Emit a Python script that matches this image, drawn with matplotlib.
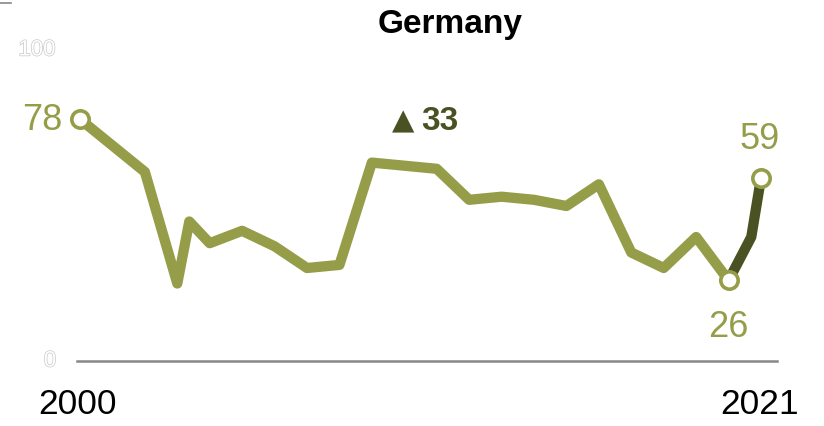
import matplotlib
matplotlib.use("Agg")
import matplotlib.pyplot as plt
import matplotlib.patheffects as pe
from matplotlib.lines import Line2D

# ---- data ----
years = [2000, 2002, 2003, 2003.37, 2004, 2005, 2006, 2007, 2008, 2009, 2010,
         2011, 2012, 2013, 2014, 2015, 2016, 2017, 2018, 2019, 2020]
values = [78, 61, 25, 45, 38, 42, 37, 30, 31, 64, 63,
          62, 52, 53, 52, 50, 57, 35, 30, 40, 26]
recent_years = [2020, 2020.7, 2021]
recent_values = [26, 40, 59]
title = "Germany"
change_label = "33"
x_labels = ["2000", "2021"]
y_ticks = [0, 100]

LIGHT = "#959D48"
DARK = "#4A5123"
FONT = ["Liberation Sans", "DejaVu Sans"]
plt.rcParams["font.family"] = FONT

W, H = 824, 426
fig = plt.figure(figsize=(W / 100, H / 100), dpi=100)
x0, x1 = 80, 761
y0, y1 = 361, 51
ax = fig.add_axes([x0 / W, 1 - y0 / H, (x1 - x0) / W, (y0 - y1) / H])
ax.set_xlim(2000, 2021)
ax.set_ylim(0, 100)
ax.axis("off")

# baseline
ax.axhline(0, xmin=-0.005, xmax=1.024, color="#888888", lw=1.8, clip_on=False, zorder=1)

# lines
ax.plot(years, values, color=LIGHT, lw=7.4, solid_joinstyle="round",
        solid_capstyle="round", clip_on=False, zorder=2)
ax.plot(recent_years, recent_values, color=DARK, lw=7.4, solid_joinstyle="round",
        solid_capstyle="butt", clip_on=False, zorder=3)

# circles
for xv, yv in [(years[0], values[0]), (recent_years[0], recent_values[0]),
               (recent_years[-1], recent_values[-1])]:
    ax.plot([xv], [yv], marker="o", ms=12.5, mfc="white", mec=LIGHT, mew=2.6,
            clip_on=False, zorder=4)

# value labels
ax.annotate(str(values[0]), (years[0], values[0]), xytext=(-12.5, -1),
            textcoords="offset points", ha="right", va="center",
            fontsize=26, color=LIGHT)
ax.annotate(str(recent_values[-1]), (recent_years[-1], recent_values[-1]),
            xytext=(-1, 27.5), textcoords="offset points", ha="center",
            va="center", fontsize=26, color=LIGHT)
ax.annotate(str(recent_values[0]), (recent_years[0], recent_values[0]),
            xytext=(0, -34), textcoords="offset points", ha="center",
            va="center", fontsize=26, color=LIGHT)

# change label
fig.text(403 / W, 1 - 121 / H, "\u25B2", ha="center", va="center",
         fontsize=21, color=DARK, family=["DejaVu Sans"])
fig.text(421 / W, 1 - 121 / H, change_label, ha="left", va="center",
         fontsize=24, color=DARK, fontweight="bold")

# title
fig.text(450 / W, 1 - 25 / H, title, ha="center", va="center",
         fontsize=24, fontweight="bold", color="black")

# ghost y-axis labels
ghost = [pe.withStroke(linewidth=1.0, foreground="#c8c8c8")]
fig.text(37 / W, 1 - 50 / H, str(y_ticks[1]), ha="center", va="center",
         fontsize=16, color="white", path_effects=ghost)
fig.text(50 / W, 1 - 361 / H, str(y_ticks[0]), ha="center", va="center",
         fontsize=16, color="white", path_effects=ghost)

# year labels
fig.text(78 / W, 1 - 405 / H, x_labels[0], ha="center", va="center",
         fontsize=25.5, color="black")
fig.text(760 / W, 1 - 405 / H, x_labels[1], ha="center", va="center",
         fontsize=25.5, color="black")

# small corner mark
fig.add_artist(Line2D([0, 11 / W], [1 - 2.5 / H, 1 - 2.5 / H],
                      color="#888888", lw=1.2))

fig.savefig("out.png", dpi=100)
